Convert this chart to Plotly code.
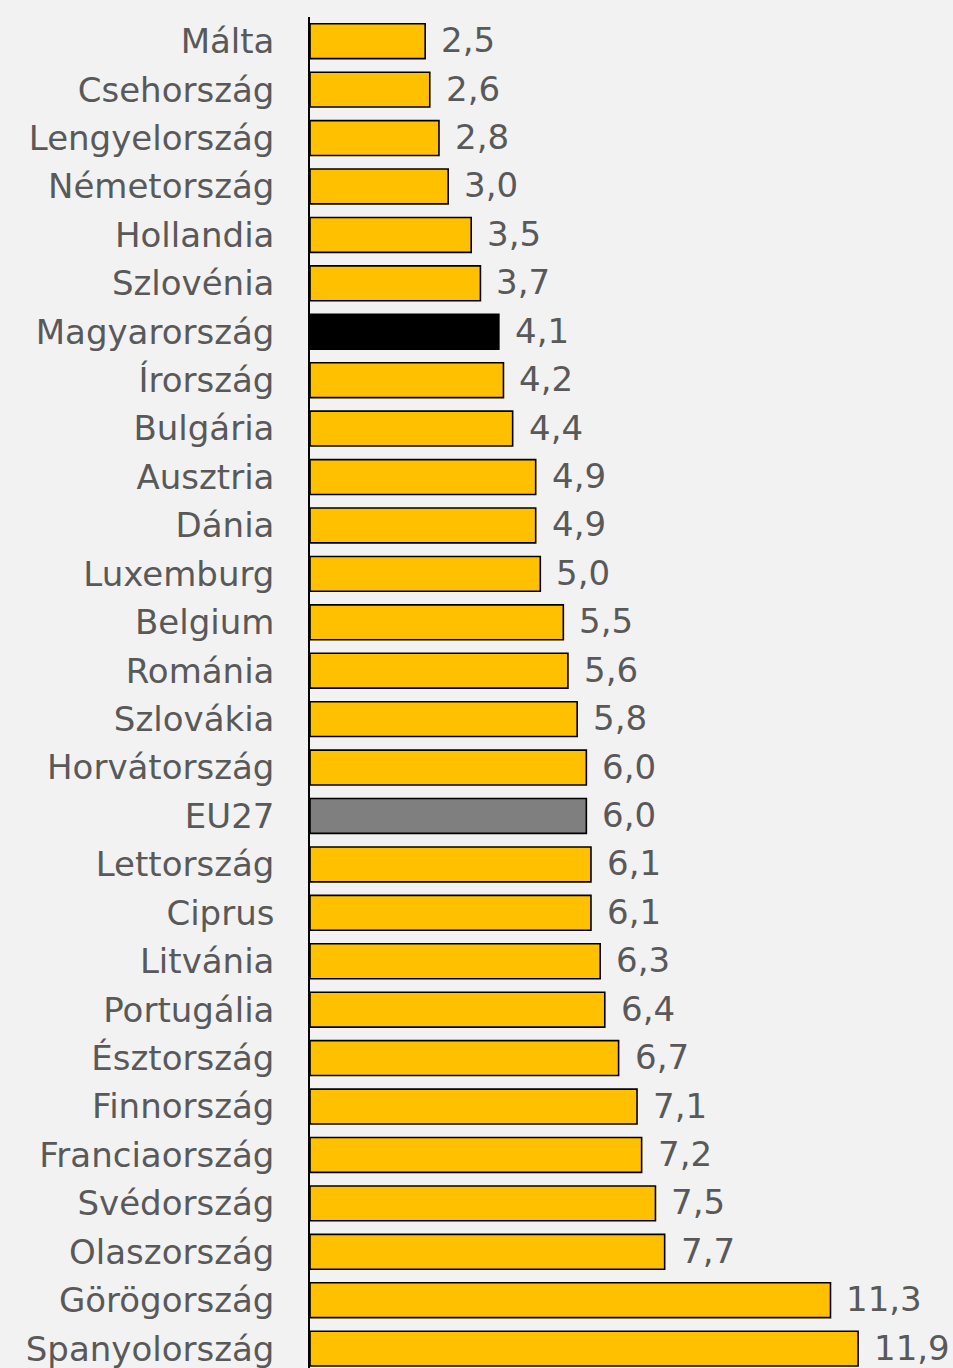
import plotly.graph_objects as go

countries = ["Málta", "Csehország", "Lengyelország", "Németország", "Hollandia", "Szlovénia",
             "Magyarország", "Írország", "Bulgária", "Ausztria", "Dánia", "Luxemburg", "Belgium",
             "Románia", "Szlovákia", "Horvátország", "EU27", "Lettország", "Ciprus", "Litvánia",
             "Portugália", "Észtország", "Finnország", "Franciaország", "Svédország", "Olaszország",
             "Görögország", "Spanyolország"]
values = [2.5, 2.6, 2.8, 3.0, 3.5, 3.7, 4.1, 4.2, 4.4, 4.9, 4.9, 5.0, 5.5, 5.6, 5.8, 6.0, 6.0,
          6.1, 6.1, 6.3, 6.4, 6.7, 7.1, 7.2, 7.5, 7.7, 11.3, 11.9]

YELLOW = "#FFC000"
colors = []
for c in countries:
    if c == "Magyarország":
        colors.append("#000000")
    elif c == "EU27":
        colors.append("#7F7F7F")
    else:
        colors.append(YELLOW)

FONT = "DejaVu Sans"
TXT = "#595959"

fig = go.Figure(go.Bar(
    x=values, y=countries, orientation="h",
    marker=dict(color=colors, line=dict(color="#000000", width=1.6)),
    width=0.72,
    hoverinfo="skip",
))

for c, v in zip(countries, values):
    fig.add_annotation(x=v, y=c, text=f"{v:.1f}".replace(".", ","), showarrow=False,
                       xanchor="left", yanchor="middle", xshift=14, yshift=1,
                       font=dict(family=FONT, size=34, color=TXT))

fig.update_layout(
    width=953, height=1368,
    margin=dict(l=310, r=0, t=17, b=0),
    paper_bgcolor="#F2F2F2", plot_bgcolor="#F2F2F2",
    showlegend=False,
    xaxis=dict(range=[0, 13.96], visible=False, showgrid=False, zeroline=False),
    yaxis=dict(range=[27.4, -0.5], showline=True, linecolor="#000000", linewidth=1.5,
               showgrid=False, zeroline=False, ticks="", ticklabelstandoff=27,
               tickfont=dict(family=FONT, size=34, color=TXT)),
)

fig.write_html("out.html", config={"displayModeBar": False},
               post_script="document.body.style.margin='0';document.body.style.overflow='hidden';")
